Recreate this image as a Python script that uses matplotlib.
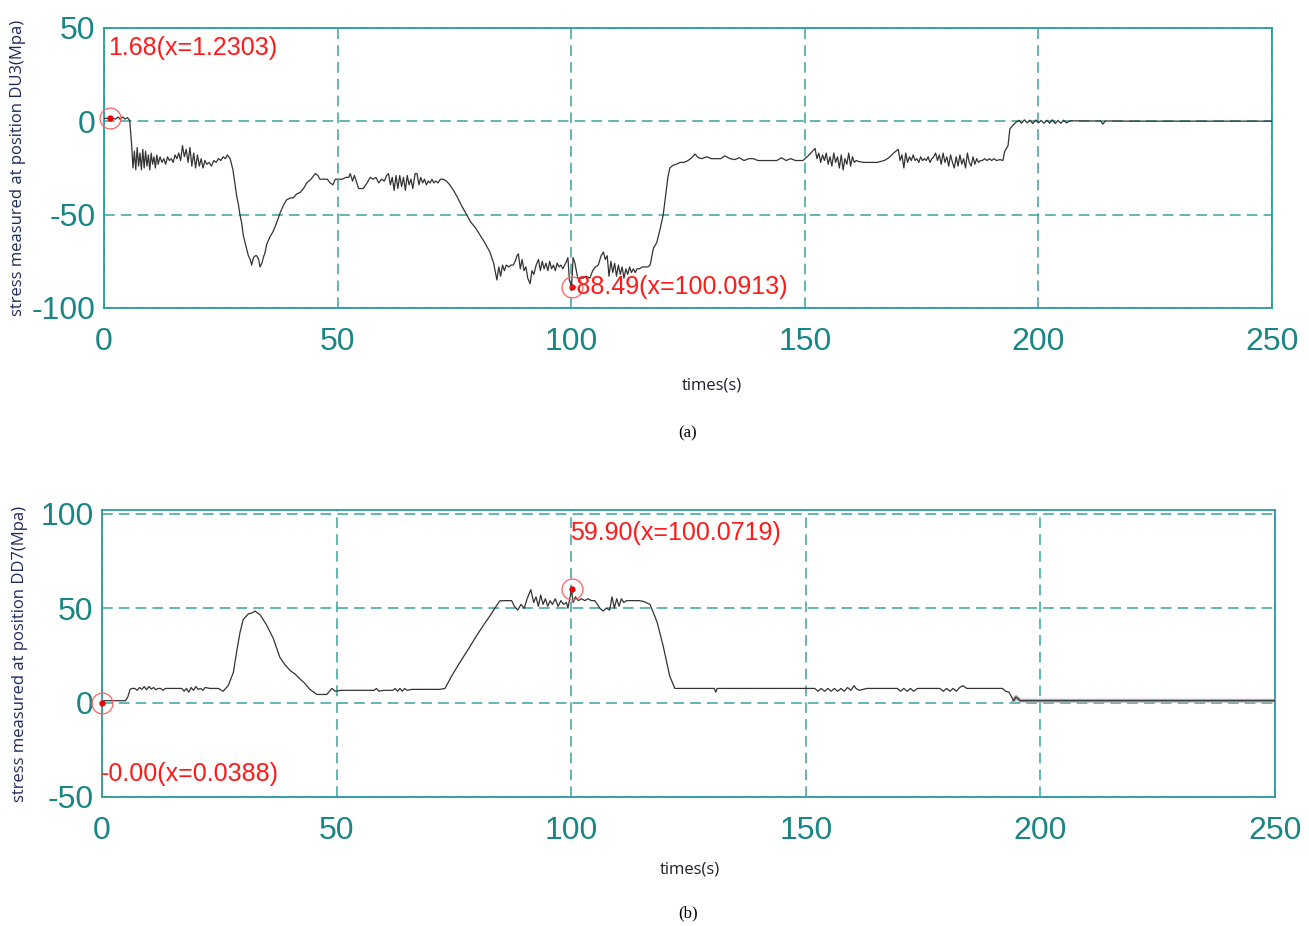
import numpy as np
import matplotlib
matplotlib.use("Agg")
import matplotlib.pyplot as plt
from matplotlib import font_manager

# ---------------- data ----------------
x_ticks = [0, 50, 100, 150, 200, 250]
top_yticks = [-100, -50, 0, 50]
bot_yticks = [-50, 0, 50, 100]

du3_t = [
    0, 0.5, 1.23, 2.0, 2.5, 3.0, 3.5, 4.0, 4.5, 5.0,
    5.5, 5.9, 6.2, 6.5, 6.8, 7.1, 7.4, 7.7, 8.0, 8.3,
    8.6, 8.9, 9.2, 9.5, 9.8, 10.1, 10.4, 10.7, 11.0, 11.3,
    11.6, 12.0, 12.4, 12.8, 13.2, 13.6, 14.0, 14.4, 14.8, 15.2,
    15.6, 16.0, 16.4, 16.8, 17.2, 17.6, 18.0, 18.4, 18.8, 19.2,
    19.6, 20.0, 20.4, 20.8, 21.2, 21.6, 22.0, 22.5, 23.0, 23.5,
    24.0, 24.5, 25.0, 25.5, 26.0, 26.4, 27.0, 27.6, 28.0, 28.4,
    28.8, 29.1, 29.5, 29.8, 30.3, 30.9, 31.3, 31.6, 32.0, 32.4,
    32.7, 33.1, 33.4, 33.8, 34.1, 34.5, 34.8, 35.5, 36.2, 37.0,
    37.7, 38.4, 39.1, 40.0, 40.5, 41.2, 42.0, 42.7, 43.4, 44.3,
    45.2, 45.8, 46.2, 47.0, 47.8, 48.4, 49.0, 49.5, 50.2, 51.0,
    51.8, 52.4, 52.7, 53.2, 53.6, 54.5, 55.5, 56.3, 57.0, 57.6,
    58.2, 58.8, 59.4, 60.0, 60.5, 60.9, 61.3, 61.7, 62.1, 62.5,
    62.9, 63.3, 63.7, 64.1, 64.5, 64.9, 65.3, 65.7, 66.1, 66.6,
    67.0, 67.4, 67.8, 68.2, 68.6, 69.0, 69.4, 69.8, 70.2, 70.6,
    71.0, 71.5, 72.0, 72.6, 73.3, 74.0, 74.8, 75.5, 76.5, 77.6,
    78.5, 79.5, 80.5, 81.5, 82.6, 83.4, 84.1, 84.5, 84.9, 85.3,
    85.7, 86.1, 86.6, 87.1, 87.6, 88.0, 88.4, 88.7, 89.1, 89.5,
    89.9, 90.3, 90.7, 91.2, 91.6, 92.0, 92.5, 93.0, 93.4, 93.8,
    94.2, 94.6, 95.0, 95.4, 95.8, 96.2, 96.6, 97.0, 97.4, 97.8,
    98.2, 98.6, 99.0, 99.3, 99.6, 100.09, 100.4, 100.8, 101.4, 102.0,
    102.6, 103.2, 104.0, 104.6, 105.2, 105.8, 106.4, 106.9, 107.3, 107.7,
    108.1, 108.5, 108.9, 109.3, 109.7, 110.1, 110.5, 110.9, 111.3, 111.7,
    112.1, 112.5, 112.9, 113.3, 113.7, 114.1, 114.6, 115.2, 115.8, 116.4,
    116.9, 117.6, 118.3, 119.0, 119.7, 120.3, 120.7, 121.1, 121.8, 122.5,
    123.3, 124.2, 125.0, 125.8, 126.5, 127.2, 128.0, 129.0, 130.0, 131.0,
    132.0, 132.9, 134.0, 135.0, 136.0, 137.0, 138.0, 139.0, 140.0, 141.0,
    142.0, 143.0, 144.0, 145.0, 146.0, 147.0, 148.0, 149.6, 150.5, 151.3,
    152.2, 152.6, 153.0, 153.4, 153.8, 154.2, 154.6, 155.0, 155.4, 155.8,
    156.2, 156.6, 157.0, 157.4, 157.8, 158.2, 158.6, 159.0, 159.4, 159.8,
    160.2, 160.6, 161.0, 161.5, 162.5, 164.0, 165.5, 167.0, 168.0, 169.0,
    170.0, 170.4, 170.8, 171.2, 171.6, 172.0, 172.4, 172.8, 173.2, 173.6,
    174.0, 174.4, 174.8, 175.2, 175.6, 176.0, 176.4, 176.8, 177.2, 177.6,
    178.0, 178.4, 178.8, 179.2, 179.6, 180.0, 180.4, 180.8, 181.2, 181.6,
    182.0, 182.4, 182.8, 183.2, 183.6, 184.0, 184.4, 184.8, 185.2, 185.6,
    186.0, 186.4, 186.8, 187.2, 187.6, 188.0, 188.5, 189.0, 189.5, 190.0,
    190.5, 191.0, 191.8, 192.4, 192.8, 193.5, 193.9, 194.6, 195.2, 195.8,
    196.4, 197.0, 197.6, 198.2, 198.8, 199.4, 200.0, 200.6, 201.2, 201.8,
    202.4, 203.0, 203.6, 204.2, 204.8, 205.4, 206.0, 206.8, 210.0, 213.3,
    213.8, 214.3, 220.0, 230.0, 240.0, 250.0,
]
du3_v = [
    1.5, 1.6, 1.68, 1.5, 1.2, 2.3, 1.0, 2.4, 1.2, 2.0,
    0.5, -12, -25, -16, -26, -14, -24, -17, -26, -15,
    -25, -16, -24, -18, -26, -17, -23, -19, -25, -18,
    -23, -19, -22, -20, -23, -19, -21, -20, -22, -18,
    -20, -17, -21, -13, -19, -15, -22, -14, -24, -17,
    -25, -18, -24, -20, -25, -21, -23, -22, -24, -21,
    -22, -20, -21, -19, -20, -18, -20, -26, -33, -40,
    -45, -50, -55, -61, -66, -72, -74, -77, -73, -72,
    -72, -74, -78, -76, -73, -70, -66, -62, -59, -54,
    -49, -45, -42, -41, -41, -39, -38, -36, -33, -31,
    -28, -29, -31, -31, -31, -33, -34, -31, -31, -31,
    -30, -30, -28, -32, -29, -36, -36, -33, -30, -31,
    -30, -33, -31, -32, -29, -28, -34, -30, -37, -29,
    -36, -29, -35, -30, -37, -29, -34, -31, -36, -28,
    -28, -34, -30, -33, -31, -34, -32, -33, -31, -33,
    -32, -33, -31, -31, -32, -34, -37, -40, -45, -50,
    -54, -57, -61, -65, -70, -76, -85, -78, -83, -77,
    -80, -77, -78, -77, -77, -75, -72, -71, -79, -74,
    -80, -78, -84, -87, -80, -82, -77, -74, -80, -75,
    -79, -76, -80, -75, -79, -77, -80, -76, -78, -77,
    -79, -77, -75, -73, -85, -88.49, -73, -76, -84, -84,
    -84, -83, -84, -80, -78, -77, -72, -70, -74, -72,
    -83, -75, -81, -76, -83, -77, -82, -78, -84, -79,
    -82, -78, -81, -79, -81, -79, -79, -78, -78, -78,
    -77, -68, -65, -58, -50, -38, -30, -25, -23.5, -23,
    -22, -22, -21, -19.5, -17.5, -19.5, -20, -19, -20, -20,
    -20, -18.5, -20, -20.5, -19.5, -21, -20, -20, -21, -21,
    -21, -21, -21, -19.5, -21, -20, -21, -21, -19, -17,
    -14.5, -20, -17, -22, -18, -21, -17, -23, -19, -24,
    -17, -22, -19, -25, -18, -26, -20, -23, -17, -24,
    -19, -22, -21, -21.5, -22, -22, -22, -21, -19.5, -17,
    -15, -21, -18, -25, -17, -22, -19, -21, -18, -21,
    -20, -22, -19, -21, -20, -21, -19, -22, -20, -19,
    -17, -21, -18, -23, -17, -22, -19, -24, -18, -22,
    -25, -19, -24, -18, -23, -20, -25, -17, -22, -24,
    -19, -23, -20, -22, -21, -21, -20, -21, -20, -21,
    -20, -21, -20.5, -21, -16, -13, -4, -2, -0.5, 0.5,
    -1.0, 0.8, -0.8, 0.6, -1.2, 0.7, -0.8, 0.5, -1.0, 0.6,
    -1.0, 0.8, -1.2, 0.5, -1.0, 0.6, -0.8, 0.3, 0.2, 0.2,
    -1.5, 0.2, 0.1, 0.1, 0.1, 0.1,
]

dd7_t = [
    0, 0.5, 1.5, 2.5, 3.5, 4.5, 5.0, 5.5, 6.0, 6.4,
    7.0, 7.5, 8.0, 8.5, 9.0, 9.5, 10.0, 10.5, 11.0, 11.5,
    12.0, 12.5, 13.0, 13.5, 14.0, 15.0, 16.0, 17.0, 17.5, 18.0,
    18.5, 19.0, 19.5, 20.0, 20.5, 21.0, 21.5, 22.0, 23.0, 24.8,
    25.8, 26.9, 28.0, 28.7, 29.4, 30.1, 31.2, 32.0, 32.6, 33.7,
    35.1, 36.5, 37.9, 39.0, 40.1, 41.2, 42.2, 43.3, 44.3, 45.8,
    47.9, 49.0, 49.7, 51.0, 53.0, 55.0, 57.0, 58.0, 58.5, 59.0,
    60.0, 62.0, 62.5, 63.0, 63.5, 64.0, 64.5, 65.0, 66.0, 70.0,
    72.0, 73.1, 74.5, 76.3, 78.0, 79.9, 81.3, 82.7, 84.0, 84.8,
    86.0, 87.3, 87.9, 88.6, 89.3, 90.0, 90.6, 91.4, 92.0, 92.5,
    93.0, 93.5, 94.0, 94.5, 95.0, 95.5, 96.0, 96.6, 97.2, 97.8,
    98.4, 99.0, 99.3, 100.07, 100.4, 100.9, 101.5, 102.2, 102.9, 103.6,
    104.3, 105.0, 105.6, 106.1, 106.8, 107.5, 108.2, 108.7, 109.2, 109.7,
    110.2, 110.7, 111.2, 111.8, 112.5, 113.5, 114.5, 115.5, 116.8, 118.3,
    119.6, 121.0, 122.1, 125.0, 128.0, 130.5, 130.8, 131.1, 135.0, 140.0,
    145.0, 150.0, 151.9, 152.6, 153.3, 154.0, 154.7, 155.4, 156.1, 156.8,
    157.5, 158.2, 158.9, 159.6, 160.3, 160.7, 161.4, 163.0, 166.0, 169.5,
    170.2, 170.9, 171.6, 172.3, 173.0, 173.8, 176.0, 178.6, 179.3, 180.0,
    180.7, 181.4, 182.1, 182.8, 183.5, 184.3, 186.0, 189.0, 191.0, 191.9,
    192.6, 193.3, 194.3, 194.8, 195.7, 200.0, 210.0, 220.0, 230.0, 240.0,
    250.0,
]
dd7_v = [
    0.5, 1.0, 1.0, 1.0, 1.0, 1.0, 1.0, 3.0, 7.0, 7.5,
    7.5, 6.5, 8.0, 7.0, 8.5, 6.8, 8.5, 7.2, 8.0, 6.8,
    7.5, 7.5, 6.5, 7.5, 7.5, 7.5, 7.5, 7.5, 6.0, 7.5,
    5.5, 8.0, 6.5, 8.5, 7.0, 7.5, 6.5, 8.0, 7.5, 7.5,
    6.0, 9.0, 16, 27, 37, 44, 47, 47.5, 48.5, 46.5,
    41, 34, 24, 20, 17, 15, 12.5, 10, 7, 4.3,
    4.3, 7.5, 6.0, 6.5, 6.5, 6.5, 6.5, 6.5, 7.5, 6.0,
    6.5, 6.5, 7.5, 6.0, 7.5, 6.0, 7.5, 6.5, 7.0, 7.0,
    7.0, 7.5, 14, 21.4, 28, 35.7, 41, 46, 51, 53.9,
    54, 54, 51, 49, 52, 50, 55, 59.8, 53, 56,
    51, 57, 52, 55, 51, 54, 52, 55, 51, 54,
    52, 53, 50, 59.9, 53, 56, 54, 55, 54, 55,
    54, 54, 52, 50, 48.5, 50, 49, 56, 50, 55,
    51, 55, 53, 54, 54, 54, 54, 53.5, 52, 42.7,
    30, 14, 7.5, 7.5, 7.5, 7.5, 5.5, 7.5, 7.5, 7.5,
    7.5, 7.5, 7.5, 6.0, 7.5, 6.0, 7.5, 6.0, 7.5, 6.0,
    7.5, 6.0, 8.0, 6.5, 9.0, 7.5, 6.5, 7.5, 7.5, 7.5,
    6.0, 7.5, 6.0, 7.5, 6.0, 7.5, 7.5, 7.5, 6.0, 7.5,
    6.0, 7.5, 6.0, 8.0, 9.0, 7.5, 7.5, 7.5, 7.5, 7.5,
    6.0, 5.5, 1.0, 3.0, 1.0, 1.0, 1.0, 1.0, 1.0, 1.0,
    1.0,
]

# marked points and their labels
du3_marks = [(1.2303, 1.68), (100.0913, -88.49)]
du3_labels = ["1.68(x=1.2303)", "-88.49(x=100.0913)"]
du3_label_pos = [(0.9, 39.5), (99.4, -89.0)]
dd7_marks = [(100.0719, 59.90), (0.0388, 0.0)]
dd7_labels = ["59.90(x=100.0719)", "-0.00(x=0.0388)"]
dd7_label_pos = [(99.8, 90.0), (-0.2, -38.0)]

assert len(du3_t) == len(du3_v)
assert len(dd7_t) == len(dd7_v)

# ---------------- style ----------------
names = {f.name for f in font_manager.fontManager.ttflist}
narrow = 'Liberation Sans Narrow' if 'Liberation Sans Narrow' in names else 'Liberation Sans'
is_narrow = narrow.endswith('Narrow')
TICK_FS = 26 if is_narrow else 23
ANN_FS = 21 if is_narrow else 18

TEAL_TXT = '#1a8585'
TEAL_LINE = '#2a9b9b'
GRID = '#3aa2a2'
RED = '#ff1a1a'
LINE = '#333333'

fig = plt.figure(figsize=(13.09, 9.26), dpi=100)

ax1 = fig.add_axes([104/1309, 1-308/926, (1272-104)/1309, (308-28)/926])
ax2 = fig.add_axes([102/1309, 1-797/926, (1275-102)/1309, (797-510)/926])


def style(ax, yticks, ylim, ylabel, xlabel_coords, ylabel_coords):
    ax.set_xlim(0, 250)
    ax.set_ylim(*ylim)
    ax.set_xticks(x_ticks)
    ax.set_yticks(yticks)
    ax.set_xticklabels([str(v) for v in x_ticks])
    ax.set_yticklabels([str(v) for v in yticks])
    ax.tick_params(axis='both', length=0, colors=TEAL_TXT, labelsize=TICK_FS)
    ax.tick_params(axis='x', pad=14)
    ax.tick_params(axis='y', pad=6)
    for lab in ax.get_xticklabels() + ax.get_yticklabels():
        lab.set_fontfamily(narrow)
    for s in ax.spines.values():
        s.set_color(TEAL_LINE)
        s.set_linewidth(1.3)
    ax.grid(True, color=GRID, linestyle=(0, (7, 4)), linewidth=1.1)
    ax.set_axisbelow(True)
    ax.set_xlabel('times(s)', fontsize=12, color='#1e1e2e', family='Open Sans')
    ax.xaxis.set_label_coords(*xlabel_coords)
    ax.set_ylabel(ylabel, fontsize=12, color='#1c2a5c', family='Open Sans', va='center')
    ax.yaxis.set_label_coords(*ylabel_coords)


style(ax1, top_yticks, (-100, 50), 'stress measured at position DU3(Mpa)',
      (0.5205, -0.25), (-0.0735, 0.5))
style(ax2, bot_yticks, (-50, 102), 'stress measured at position DD7(Mpa)',
      (0.501, -0.225), (-0.0695, 0.5))

# curves
ax1.plot(du3_t, du3_v, color=LINE, linewidth=0.9, zorder=3)

dd7_t_arr = np.array(dd7_t)
dd7_v_arr = np.array(dd7_v)
tail = dd7_t_arr >= 194.3
ax2.plot(dd7_t_arr[tail], dd7_v_arr[tail], color='#b0b0b0', linewidth=2.8, zorder=2.5)
ax2.plot(dd7_t, dd7_v, color=LINE, linewidth=0.9, zorder=3)

# marks and labels
for ax, marks, labels, pos in [(ax1, du3_marks, du3_labels, du3_label_pos),
                               (ax2, dd7_marks, dd7_labels, dd7_label_pos)]:
    for (mx, my), lab, (tx, ty) in zip(marks, labels, pos):
        ax.plot([mx], [my], marker='o', markersize=15, markerfacecolor='none',
                markeredgecolor='#ff6060', markeredgewidth=0.9, zorder=4, clip_on=False)
        ax.plot([mx], [my], marker='o', markersize=3.5, color='#ee0000', zorder=5, clip_on=False)
        ax.text(tx, ty, lab, color=RED, fontsize=ANN_FS, family=narrow,
                ha='left', va='center', zorder=6)

# captions
fig.text(688/1309, 1-433/926, '(a)', family='Liberation Serif', fontsize=12,
         ha='center', va='center', color='black')
fig.text(688/1309, 1-913/926, '(b)', family='Liberation Serif', fontsize=12,
         ha='center', va='center', color='black')

fig.savefig('out.png', dpi=100)
